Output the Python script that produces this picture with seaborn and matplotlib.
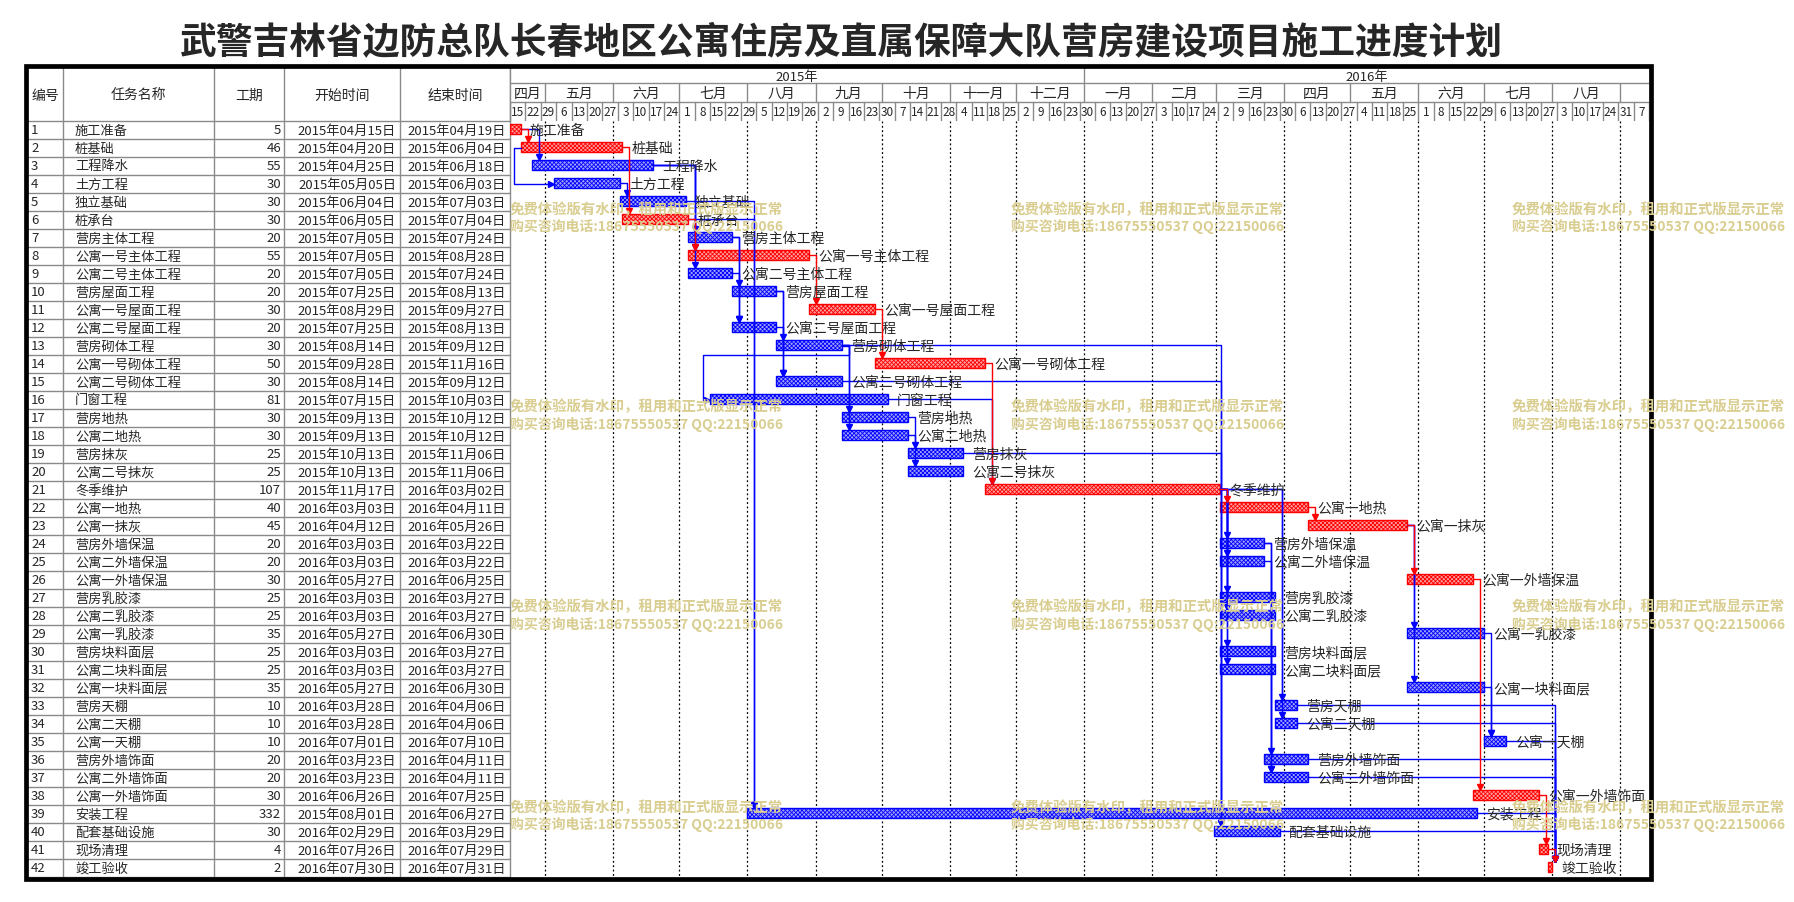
import matplotlib
matplotlib.use("Agg")
import matplotlib.pyplot as plt
import matplotlib.dates as mdates
from matplotlib.patches import Rectangle
import pandas as pd
import seaborn as sns

sns.set_style("white")
plt.rcParams['font.family'] = ['Noto Sans CJK SC', 'DejaVu Sans']
plt.rcParams['hatch.linewidth'] = 0.6

title = "武警吉林省边防总队长春地区公寓住房及直属保障大队营房建设项目施工进度计划"
col_headers = ["编号", "任务名称", "工期", "开始时间", "结束时间"]

names = ["施工准备", "桩基础", "工程降水", "土方工程", "独立基础", "桩承台", "营房主体工程",
         "公寓一号主体工程", "公寓二号主体工程", "营房屋面工程", "公寓一号屋面工程", "公寓二号屋面工程",
         "营房砌体工程", "公寓一号砌体工程", "公寓二号砌体工程", "门窗工程", "营房地热", "公寓二地热",
         "营房抹灰", "公寓二号抹灰", "冬季维护", "公寓一地热", "公寓一抹灰", "营房外墙保温",
         "公寓二外墙保温", "公寓一外墙保温", "营房乳胶漆", "公寓二乳胶漆", "公寓一乳胶漆", "营房块料面层",
         "公寓二块料面层", "公寓一块料面层", "营房天棚", "公寓二天棚", "公寓一天棚", "营房外墙饰面",
         "公寓二外墙饰面", "公寓一外墙饰面", "安装工程", "配套基础设施", "现场清理", "竣工验收"]
durations = [5, 46, 55, 30, 30, 30, 20, 55, 20, 20, 30, 20, 30, 50, 30, 81, 30, 30, 25, 25, 107,
             40, 45, 20, 20, 30, 25, 25, 35, 25, 25, 35, 10, 10, 10, 20, 20, 30, 332, 30, 4, 2]
starts = ["2015-04-15", "2015-04-20", "2015-04-25", "2015-05-05", "2015-06-04", "2015-06-05",
          "2015-07-05", "2015-07-05", "2015-07-05", "2015-07-25", "2015-08-29", "2015-07-25",
          "2015-08-14", "2015-09-28", "2015-08-14", "2015-07-15", "2015-09-13", "2015-09-13",
          "2015-10-13", "2015-10-13", "2015-11-17", "2016-03-03", "2016-04-12", "2016-03-03",
          "2016-03-03", "2016-05-27", "2016-03-03", "2016-03-03", "2016-05-27", "2016-03-03",
          "2016-03-03", "2016-05-27", "2016-03-28", "2016-03-28", "2016-07-01", "2016-03-23",
          "2016-03-23", "2016-06-26", "2015-08-01", "2016-02-29", "2016-07-26", "2016-07-30"]
ends = ["2015-04-19", "2015-06-04", "2015-06-18", "2015-06-03", "2015-07-03", "2015-07-04",
        "2015-07-24", "2015-08-28", "2015-07-24", "2015-08-13", "2015-09-27", "2015-08-13",
        "2015-09-12", "2015-11-16", "2015-09-12", "2015-10-03", "2015-10-12", "2015-10-12",
        "2015-11-06", "2015-11-06", "2016-03-02", "2016-04-11", "2016-05-26", "2016-03-22",
        "2016-03-22", "2016-06-25", "2016-03-27", "2016-03-27", "2016-06-30", "2016-03-27",
        "2016-03-27", "2016-06-30", "2016-04-06", "2016-04-06", "2016-07-10", "2016-04-11",
        "2016-04-11", "2016-07-25", "2016-06-27", "2016-03-29", "2016-07-29", "2016-07-31"]
critical = [1, 2, 6, 8, 11, 14, 21, 22, 23, 26, 38, 41, 42]

# links (predecessor, successor)
red_links = [(1, 2), (2, 6), (6, 8), (8, 11), (11, 14), (14, 21), (21, 22), (22, 23),
             (23, 26), (26, 38), (38, 41), (41, 42)]
blue_links = [(1, 3), (4, 5), (3, 7), (3, 8), (3, 9), (5, 39), (6, 39), (7, 10), (7, 12),
              (9, 12), (10, 13), (12, 15), (10, 15), (13, 17), (13, 18), (17, 19), (18, 20),
              (16, 21), (13, 40), (15, 40), (19, 40), (21, 24), (21, 25), (21, 27), (21, 28),
              (21, 30), (21, 31), (21, 33), (21, 34), (24, 36), (24, 37), (25, 37), (23, 29),
              (23, 32), (29, 35), (32, 35), (33, 42), (34, 42), (35, 42), (36, 42), (37, 42),
              (39, 42), (40, 42)]
ss_links = [(2, 4)]
back_links = [(13, 16)]

watermark1 = "免费体验版有水印，租用和正式版显示正常"
watermark2 = "购买咨询电话:18675550537 QQ:22150066"
cn_months = ["一月", "二月", "三月", "四月", "五月", "六月", "七月", "八月", "九月", "十月", "十一月", "十二月"]

t0 = pd.Timestamp("2015-04-15")
t1 = pd.Timestamp("2016-09-14")

W, H = 1794, 903


def box(x0, y0, x1, y1):
    return [x0 / W, 1 - y1 / H, (x1 - x0) / W, (y1 - y0) / H]


fig = plt.figure(figsize=(W / 100, H / 100), dpi=100)
GRAY = "#8a8a8a"
RED, BLUE = "#ff0000", "#0000ff"

n = len(names)
rows = list(range(1, n + 1))
s_num = mdates.date2num(pd.to_datetime(starts))
e_num = mdates.date2num(pd.to_datetime(ends)) + 1
x0n, x1n = mdates.date2num(t0), mdates.date2num(t1)

# ---------- table ----------
cols = [28, 63, 214, 284, 400, 510]
ath = fig.add_axes(box(28, 69, 510, 122))
ath.set_xlim(28, 510)
ath.set_ylim(122, 69)
ath.axis("off")
for c in cols[1:]:
    ath.plot([c, c], [69, 122], color=GRAY, lw=1)
for i, h in enumerate(col_headers):
    ath.text((cols[i] + cols[i + 1]) / 2, 96, h, ha="center", va="center", fontsize=10)

atb = fig.add_axes(box(28, 122, 510, 878))
atb.set_xlim(28, 510)
atb.set_ylim(n + 0.5, 0.5)
atb.axis("off")
for r in range(n + 1):
    atb.plot([28, 510], [r + 0.5, r + 0.5], color=GRAY, lw=1, clip_on=False)
for c in cols[1:]:
    atb.plot([c, c], [0.5, n + 0.5], color=GRAY, lw=1, clip_on=False)
fmt = lambda d: pd.Timestamp(d).strftime("%Y年%m月%d日")
for r, nm, du, s, e in zip(rows, names, durations, starts, ends):
    atb.text(31, r, str(r), va="center", ha="left", fontsize=9.5)
    atb.text(75, r, nm, va="center", ha="left", fontsize=9.5)
    atb.text(281, r, str(du), va="center", ha="right", fontsize=9.5)
    atb.text(396, r, fmt(s), va="center", ha="right", fontsize=9.5)
    atb.text(506, r, fmt(e), va="center", ha="right", fontsize=9.5)

# ---------- gantt header ----------
agh = fig.add_axes(box(510, 69, 1649, 122))
agh.set_xlim(x0n, x1n)
agh.set_ylim(122, 69)
agh.axis("off")
agh.plot([x0n, x1n], [84, 84], color=GRAY, lw=1)
agh.plot([x0n, x1n], [103, 103], color=GRAY, lw=1)
agh.plot([x0n, x0n], [69, 122], color=GRAY, lw=1, clip_on=False)
years = pd.date_range("2015-01-01", "2017-01-01", freq="YS")
for a, b in zip(years[:-1], years[1:]):
    lo, hi = max(mdates.date2num(a), x0n), min(mdates.date2num(b), x1n)
    agh.text((lo + hi) / 2, 77, f"{a.year}年", ha="center", va="center", fontsize=9.5)
    if x0n < mdates.date2num(b) < x1n:
        agh.plot([mdates.date2num(b)] * 2, [69, 84], color=GRAY, lw=1)
months = pd.date_range("2015-04-01", "2016-10-01", freq="MS")
for a, b in zip(months[:-1], months[1:]):
    lo, hi = max(mdates.date2num(a), x0n), min(mdates.date2num(b), x1n)
    if hi - lo >= 15:
        agh.text((lo + hi) / 2, 94, cn_months[a.month - 1], ha="center", va="center", fontsize=10)
    if x0n < mdates.date2num(b) < x1n:
        agh.plot([mdates.date2num(b)] * 2, [84, 103], color=GRAY, lw=1)
weeks = pd.date_range(t0, t1, freq="7D")
for w in weeks:
    wn = mdates.date2num(w)
    agh.plot([wn, wn], [103, 122], color=GRAY, lw=1)
    agh.text(wn + 3.5, 113, str(w.day), ha="center", va="center", fontsize=8.5, clip_on=True)

# ---------- gantt body ----------
ax = fig.add_axes(box(510, 122, 1649, 878))
ax.set_xlim(x0n, x1n)
ax.set_ylim(n + 0.5, 0.5)
ax.axis("off")
for m in months:
    mn = mdates.date2num(m)
    if x0n < mn < x1n:
        ax.plot([mn, mn], [0.5, n + 0.5], color="black", lw=0.9, ls=(0, (1.5, 2)))

bh = 0.52
colors = [RED if r in critical else BLUE for r in rows]
faces = ["#ffa0a0" if r in critical else "#a0a0ff" for r in rows]
ax.barh([r - 0.05 for r in rows], e_num - s_num, left=s_num, height=bh,
        color=faces, edgecolor=colors, hatch="xxxxxxxx", lw=1, zorder=3)

off = 7 / 2.2
alen = 0.17


def draw_fs(p, q, col):
    xe, xs = e_num[p - 1], s_num[q - 1] + off
    ytop = q - 0.05 - bh / 2 - alen
    ax.plot([xe, xs, xs], [p - 0.05, p - 0.05, ytop], color=col, lw=1, zorder=4)
    ax.plot(xs, ytop, marker="v", ms=4.5, color=col, zorder=4)


def draw_ss(p, q, col):
    xa, xs = s_num[p - 1], s_num[q - 1]
    xl = xa - off
    ax.plot([xa, xl, xl, xs - 1.4], [p, p, q, q], color=col, lw=1, zorder=4)
    ax.plot(xs - 1.4, q, marker=">", ms=4.5, color=col, zorder=4)


def draw_back(p, q, col):
    xe, xs = e_num[p - 1], s_num[q - 1]
    xr, xl = xe + off, xs - off
    ax.plot([xe, xr, xr, xl, xl, xs - 1.4], [p, p, p + 0.5, p + 0.5, q, q],
            color=col, lw=1, zorder=4)
    ax.plot(xs - 1.4, q, marker=">", ms=4.5, color=col, zorder=4)


for p, q in blue_links:
    draw_fs(p, q, BLUE)
for p, q in ss_links:
    draw_ss(p, q, BLUE)
for p, q in back_links:
    draw_back(p, q, BLUE)
for p, q in red_links:
    draw_fs(p, q, RED)

for r, nm in zip(rows, names):
    ax.text(e_num[r - 1] + 4.1, r, nm, va="center", ha="left", fontsize=10, zorder=5)

# ---------- title, frame, watermarks ----------
fig.text(841 / W, 1 - 43 / H, title, ha="center", va="center", fontsize=26.5, fontweight="bold")
fig.patches.append(Rectangle((26 / W, 1 - 880 / H), (1651 - 26) / W, (880 - 67) / H,
                             transform=fig.transFigure, fill=False, lw=3.4, ec="black", zorder=20))
WM = "#d9cd8f"
for wx in [510, 1011, 1512]:
    for y1, y2 in [(210, 227), (407, 424), (607, 625), (808, 825)]:
        fig.text(wx / W, 1 - y1 / H, watermark1, color=WM, fontsize=10.4, fontweight="bold",
                 va="center", ha="left", zorder=30)
        fig.text(wx / W, 1 - y2 / H, watermark2, color=WM, fontsize=10, fontweight="bold",
                 va="center", ha="left", zorder=30)

fig.savefig("out.png", dpi=100)
